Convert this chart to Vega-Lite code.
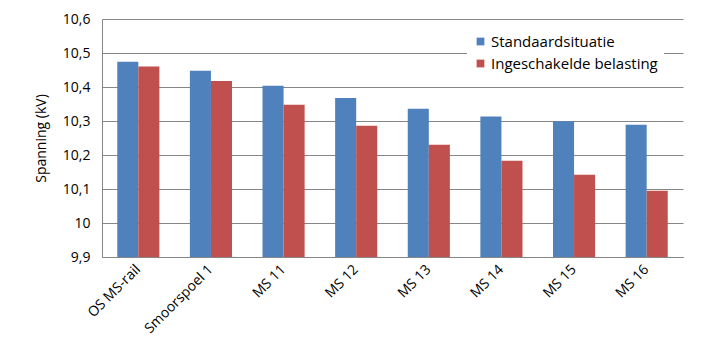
{
  "$schema": "https://vega.github.io/schema/vega-lite/v6.json",
  "width": 581,
  "height": 238,
  "autosize": "none",
  "padding": {"left": 102, "top": 19, "right": 25, "bottom": 97},
  "background": "white",
  "data": {
    "values": [
      {"locatie": "OS MS-rail", "situatie": "Standaardsituatie", "spanning": 10.474},
      {"locatie": "OS MS-rail", "situatie": "Ingeschakelde belasting", "spanning": 10.46},
      {"locatie": "Smoorspoel 1", "situatie": "Standaardsituatie", "spanning": 10.448},
      {"locatie": "Smoorspoel 1", "situatie": "Ingeschakelde belasting", "spanning": 10.418},
      {"locatie": "MS 11", "situatie": "Standaardsituatie", "spanning": 10.404},
      {"locatie": "MS 11", "situatie": "Ingeschakelde belasting", "spanning": 10.348},
      {"locatie": "MS 12", "situatie": "Standaardsituatie", "spanning": 10.368},
      {"locatie": "MS 12", "situatie": "Ingeschakelde belasting", "spanning": 10.286},
      {"locatie": "MS 13", "situatie": "Standaardsituatie", "spanning": 10.336},
      {"locatie": "MS 13", "situatie": "Ingeschakelde belasting", "spanning": 10.23},
      {"locatie": "MS 14", "situatie": "Standaardsituatie", "spanning": 10.313},
      {"locatie": "MS 14", "situatie": "Ingeschakelde belasting", "spanning": 10.183},
      {"locatie": "MS 15", "situatie": "Standaardsituatie", "spanning": 10.299},
      {"locatie": "MS 15", "situatie": "Ingeschakelde belasting", "spanning": 10.142},
      {"locatie": "MS 16", "situatie": "Standaardsituatie", "spanning": 10.289},
      {"locatie": "MS 16", "situatie": "Ingeschakelde belasting", "spanning": 10.095}
    ]
  },
  "mark": {"type": "bar", "clip": true},
  "encoding": {
    "x": {
      "field": "locatie",
      "type": "nominal",
      "sort": null,
      "scale": {"paddingInner": 0.42, "paddingOuter": 0.21},
      "axis": {
        "title": null,
        "labelAngle": -45,
        "labelAlign": "right",
        "labelBaseline": "middle",
        "labelFont": "Open Sans",
        "labelFontSize": 14,
        "labelColor": "black",
        "labelPadding": 10,
        "ticks": false,
        "domainColor": "#868686",
        "grid": false
      }
    },
    "xOffset": {"field": "situatie", "type": "nominal", "sort": ["Standaardsituatie", "Ingeschakelde belasting"]},
    "y": {
      "field": "spanning",
      "type": "quantitative",
      "scale": {"domain": [9.9, 10.6], "zero": false, "nice": false},
      "axis": {
        "title": "Spanning (kV)",
        "titleFont": "Open Sans",
        "titleFontSize": 14,
        "titleFontWeight": "normal",
        "titleColor": "black",
        "titlePadding": 14,
        "values": [9.9, 10, 10.1, 10.2, 10.3, 10.4, 10.5, 10.6],
        "labelExpr": "replace(format(datum.value, '.2~f'), '.', ',')",
        "labelFont": "Open Sans",
        "labelFontSize": 14,
        "labelColor": "black",
        "labelPadding": 12,
        "ticks": false,
        "domainColor": "#868686",
        "gridColor": "#868686",
        "gridWidth": 1
      }
    },
    "color": {
      "field": "situatie",
      "type": "nominal",
      "sort": ["Standaardsituatie", "Ingeschakelde belasting"],
      "scale": {"domain": ["Standaardsituatie", "Ingeschakelde belasting"], "range": ["#4F81BD", "#C0504D"]},
      "legend": {
        "title": null,
        "orient": "none",
        "legendX": 365,
        "legendY": 9,
        "fillColor": "white",
        "padding": 6,
        "symbolType": "square",
        "symbolSize": 60,
        "symbolStrokeWidth": 0,
        "labelFont": "Open Sans",
        "labelFontSize": 15,
        "labelColor": "black",
        "labelOffset": 3,
        "labelLimit": 300,
        "rowPadding": 6
      }
    }
  },
  "config": {"view": {"stroke": null}}
}
